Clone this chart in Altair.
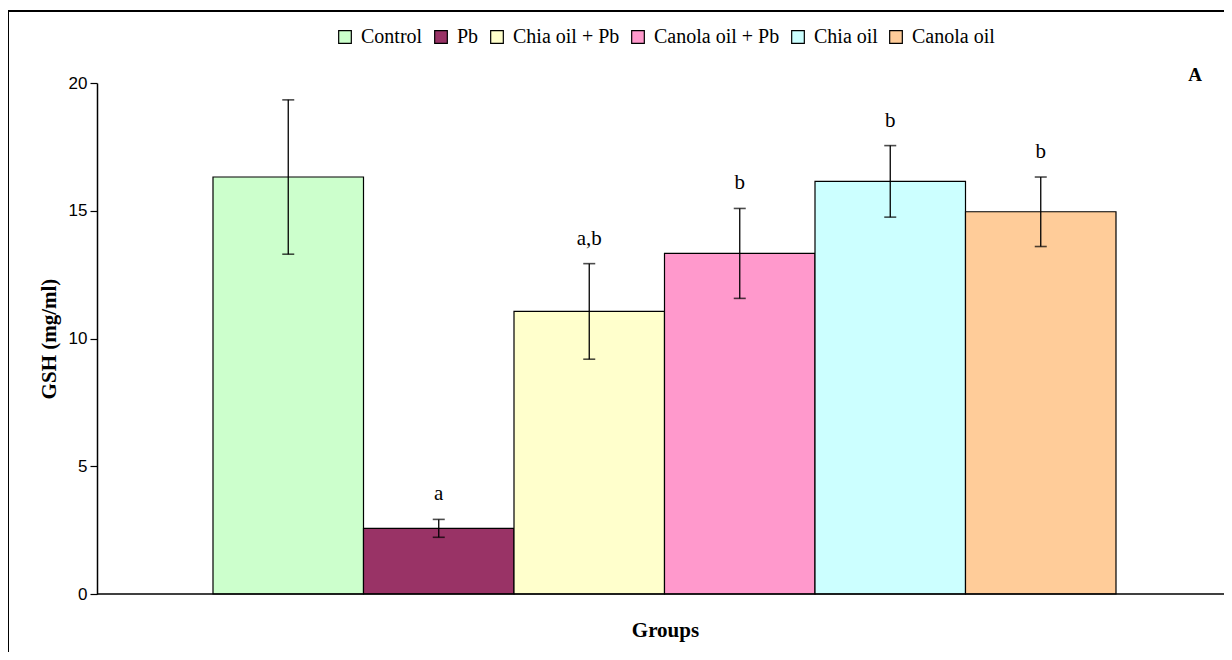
import altair as alt
import pandas as pd

groups = ["Control", "Pb", "Chia oil + Pb", "Canola oil + Pb", "Chia oil", "Canola oil"]
means = [16.32, 2.57, 11.06, 13.33, 16.15, 14.96]
errors = [3.02, 0.35, 1.87, 1.76, 1.40, 1.36]
letters = ["", "a", "a,b", "b", "b", "b"]
colors = ["#CCFFCC", "#993366", "#FFFFCC", "#FF99CC", "#CCFFFF", "#FFCC99"]

df = pd.DataFrame({"group": groups, "mean": means, "err": errors, "letter": letters})
df["lo"] = df["mean"] - df["err"]
df["hi"] = df["mean"] + df["err"]

W, H = 1127, 511

xscale = alt.Scale(domain=groups, range=[116, 1019], paddingInner=0, paddingOuter=0)
xenc = alt.X("group:N", sort=groups, scale=xscale,
             axis=alt.Axis(title="Groups", labels=False, ticks=False, domain=False,
                           titleFont="Liberation Serif", titleFontSize=21,
                           titleFontWeight="bold", titlePadding=25, titleColor="black",
                           titleX=568))
yscale = alt.Scale(domain=[0, 20], nice=False)

baseline = alt.Chart(pd.DataFrame({"z": [0]})).mark_rule(color="black", strokeWidth=1.5).encode(
    y=alt.Y("z:Q", scale=yscale), x=alt.value(0), x2=alt.value(W))

bars = alt.Chart(df).mark_bar(stroke="black", strokeWidth=1.2).encode(
    x=xenc,
    y=alt.Y("mean:Q", scale=yscale,
            axis=alt.Axis(title="GSH (mg/ml)", values=[0, 5, 10, 15, 20], grid=False,
                          domainColor="black", domainWidth=1.5, tickColor="black", tickSize=7,
                          tickWidth=1.2, labelFont="Liberation Sans", labelFontSize=17,
                          labelColor="black", labelPadding=3,
                          titleFont="Liberation Serif", titleFontSize=21, titleFontWeight="bold",
                          titleColor="black", titlePadding=9)),
    color=alt.Color("group:N", sort=groups,
                    scale=alt.Scale(domain=groups, range=colors),
                    legend=alt.Legend(title=None, orient="none", direction="horizontal",
                                      legendX=238, legendY=-56, symbolType="square",
                                      symbolSize=160, symbolStrokeColor="black",
                                      symbolStrokeWidth=1.2, symbolOpacity=1,
                                      labelFont="Liberation Serif", labelFontSize=20,
                                      labelColor="black", labelOffset=6, columnPadding=8)),
)

rules = alt.Chart(df).mark_rule(color="black", strokeWidth=1.3).encode(
    x=alt.X("group:N", sort=groups, scale=xscale), y=alt.Y("lo:Q", scale=yscale), y2="hi:Q")
caps_lo = alt.Chart(df).mark_tick(color="black", size=12, thickness=1.6).encode(
    x=alt.X("group:N", sort=groups, scale=xscale), y=alt.Y("lo:Q", scale=yscale))
caps_hi = alt.Chart(df).mark_tick(color="black", size=12, thickness=1.6).encode(
    x=alt.X("group:N", sort=groups, scale=xscale), y=alt.Y("hi:Q", scale=yscale))
labels = alt.Chart(df).mark_text(font="Liberation Serif", fontSize=21, color="black",
                                 dy=-25).encode(
    x=alt.X("group:N", sort=groups, scale=xscale), y=alt.Y("hi:Q", scale=yscale),
    text="letter:N")

panel = alt.Chart(pd.DataFrame({"t": ["A"]})).mark_text(
    font="Liberation Serif", fontSize=19, fontWeight="bold", color="black").encode(
    x=alt.value(1098), y=alt.value(-8), text="t:N")

frame = alt.Chart(pd.DataFrame({"t": [0]})).mark_rect(
    fill=None, stroke="black", strokeWidth=2, clip=False).encode(
    x=alt.value(-89), y=alt.value(-72), x2=alt.value(W + 300), y2=alt.value(H + 300))

chart = alt.layer(frame, bars, baseline, rules, caps_lo, caps_hi, labels, panel).properties(
    width=W, height=H,
    autosize=alt.AutoSizeParams(type="none"),
    padding={"left": 89, "top": 75, "right": 0, "bottom": 58},
).configure(background="white").configure_view(stroke=None)

chart.save("out.html", embed_options={"renderer": "svg", "actions": False})
